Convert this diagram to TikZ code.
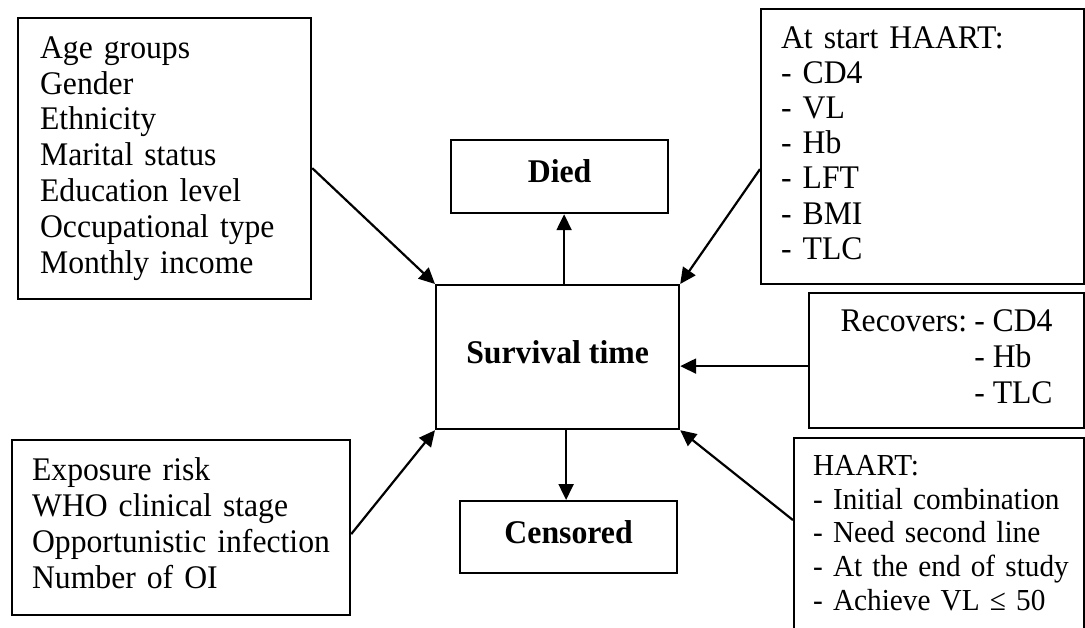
\documentclass[tikz,border=0pt]{standalone}
\usepackage{fontspec}
\setmainfont{Liberation Serif}[FakeStretch=0.96]
\usetikzlibrary{arrows.meta}
\newcommand{\lines}[1]{\begin{tabular}{@{}l@{}}#1\end{tabular}}
\begin{document}
\begin{tikzpicture}[x=1pt,y=-1pt,
  box/.style={draw, line width=2.2pt, rectangle, inner ysep=0pt, anchor=north west},
  listbox/.style={box, align=left},
  main/.style={font=\fontsize{33}{35.8}\selectfont},
  small/.style={font=\fontsize{30.5}{33.7}\selectfont},
  outcome/.style={box, inner xsep=0pt, text depth=10.5pt, font=\bfseries\fontsize{33.1}{36}\selectfont},
  link/.style={line width=2.2pt, -{Triangle[length=16pt,width=15pt]}},
]
\clip (0,0) rectangle (1085,627);

% central outcome and the two end states
\node[outcome, minimum width=243pt, minimum height=144pt] (surv) at (435,284) {Survival time};
\node[outcome, minimum width=217pt, minimum height=73pt] (died) at (450,139) {Died};
\node[outcome, minimum width=217pt, minimum height=72pt] (cens) at (459,500) {Censored};

% groups of covariates
\node[listbox, main, inner xsep=22pt, text width=249pt, minimum height=281pt] (demo) at (17,17)
  {\lines{Age groups\\Gender\\Ethnicity\\Marital status\\Education level\\Occupational type\\Monthly income}};
\node[listbox, font=\fontsize{33}{35.2}\selectfont, inner xsep=20pt, text width=283pt, minimum height=275pt] (base) at (760,8)
  {\lines{At start HAART:\\- CD4\\- VL\\- Hb\\- LFT\\- BMI\\- TLC}};
\node[box, main, inner xsep=22pt, minimum width=275pt, minimum height=135pt] (rec) at (808,292)
  {\begin{tabular}{@{}l@{\hspace{7pt}}l@{}}Recovers: & - CD4\\ & - Hb\\ & - TLC\end{tabular}};
\node[listbox, font=\fontsize{33}{36}\selectfont, inner xsep=20pt, text width=298pt, minimum height=175pt] (clin) at (11,439)
  {\lines{Exposure risk\\WHO clinical stage\\Opportunistic infection\\Number of OI}};
\node[listbox, small, inner xsep=19pt, text width=252pt, minimum height=196pt] (haart) at (793,437)
  {\lines{HAART:\\- Initial combination\\- Need second line\\- At the end of study\\- Achieve VL ≤ 50}};

% connectors
\draw[link] ([yshift=-9.5pt]demo.east) -- (surv.north west);
\draw[link] ([yshift=-22.5pt]base.west) -- (surv.north east);
\draw[link] ([yshift=-5.5pt]rec.west) -- ([yshift=-5.5pt]rec.west -| surv.east);
\draw[link] ([yshift=16pt]haart.west) -- (surv.south east);
\draw[link] ([yshift=-6.5pt]clin.east) -- (surv.south west);
\draw[link] ([xshift=6.5pt]surv.north) -- ([xshift=6.5pt]surv.north |- died.south);
\draw[link] ([xshift=8.5pt]surv.south) -- ([xshift=8.5pt]surv.south |- cens.north);
\end{tikzpicture}
\end{document}
